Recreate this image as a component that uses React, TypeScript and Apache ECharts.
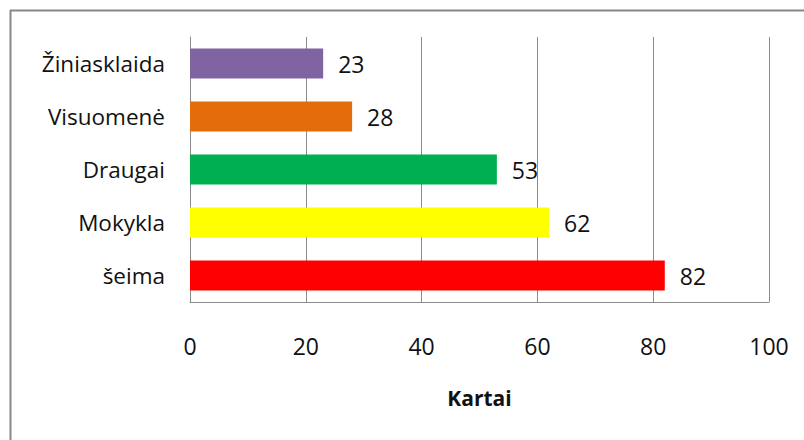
import React, { useEffect, useRef } from "react";
import * as echarts from "echarts";

const categories = ["šeima", "Mokykla", "Draugai", "Visuomenė", "Žiniasklaida"];
const values = [82, 62, 53, 28, 23];
const colors = ["#FF0000", "#FFFF00", "#00B050", "#E46C0A", "#8064A2"];
const xTicks = { min: 0, max: 100, interval: 20 };

export default function App() {
  const ref = useRef<HTMLDivElement>(null);
  useEffect(() => {
    document.body.style.margin = "0";
    const chart = echarts.init(ref.current!, null, { renderer: "svg" });
    const font = "'Open Sans', 'Noto Sans', sans-serif";
    chart.setOption({
      animation: false,
      backgroundColor: "#ffffff",
      textStyle: { fontFamily: font },
      grid: { left: 190, top: 37, right: 35, bottom: 138, containLabel: false },
      xAxis: {
        type: "value",
        min: xTicks.min,
        max: xTicks.max,
        interval: xTicks.interval,
        axisLine: { show: true, lineStyle: { color: "#8c8c8c", width: 1 } },
        axisTick: { show: false },
        splitLine: { show: true, lineStyle: { color: "#8c8c8c", width: 1 } },
        axisLabel: { margin: 32, fontSize: 23, color: "#111", fontFamily: font },
        name: "Kartai",
        nameLocation: "middle",
        nameGap: 85,
        nameTextStyle: { fontSize: 21, fontWeight: "bold", color: "#111", fontFamily: font },
      },
      yAxis: {
        type: "category",
        data: categories,
        axisLine: { show: true, lineStyle: { color: "#8c8c8c", width: 1 } },
        axisTick: { show: false },
        splitLine: { show: false },
        axisLabel: { margin: 25, fontSize: 22.5, color: "#111", fontFamily: font },
      },
      series: [
        {
          type: "bar",
          data: values.map((v, i) => ({ value: v, itemStyle: { color: colors[i] } })),
          barWidth: 30,
          label: {
            show: true,
            position: "right",
            distance: 15,
            fontSize: 23,
            color: "#111",
            fontFamily: font,
          },
        },
      ],
      graphic: [
        {
          type: "line",
          shape: { x1: 10.5, y1: 10, x2: 10.5, y2: 440 },
          style: { stroke: "#888888", lineWidth: 2 },
        },
        {
          type: "line",
          shape: { x1: 10, y1: 10.5, x2: 804, y2: 10.5 },
          style: { stroke: "#888888", lineWidth: 2 },
        },
      ],
    });
    return () => chart.dispose();
  }, []);
  return <div ref={ref} style={{ width: 804, height: 440 }} />;
}
